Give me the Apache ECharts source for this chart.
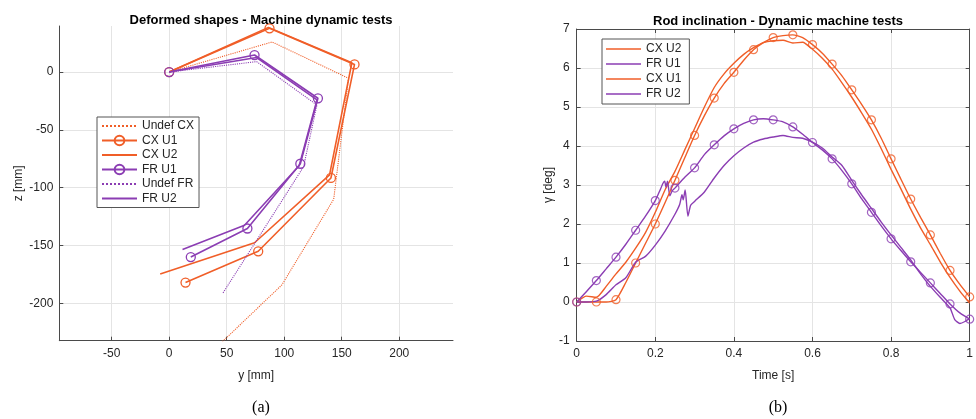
<!DOCTYPE html>
<html><head><meta charset="utf-8">
<script src="https://cdn.jsdelivr.net/npm/echarts@6/dist/echarts.min.js"></script>
<style>html,body{margin:0;padding:0;background:#fff}#c{width:976px;height:419px}</style>
</head><body><div id="c"></div>
<script>
// ---------- (a) Deformed shapes: y [mm], z [mm] ----------
const undefCxY = [0, 89.5, 155.9, 143, 98, 38];
const undefCxZ = [0, 26, -5.4, -110, -184, -241];
const cxU1Y = [0, 87.2, 161.1, 140.6, 77.4, 14.2];
const cxU1Z = [0, 37.8, 6.6, -91.6, -155, -182];
const cxU2Y = [0, 86.3, 158.8, 139.4, 74.2, -7.8];
const cxU2Z = [0, 38.6, 8, -89, -147.6, -174.7];
const frU1Y = [0, 74.2, 129.3, 114, 68, 18.8];
const frU1Z = [0, 14.7, -22.7, -79.3, -135.3, -160];
const undefFrY = [0, 76, 128.4, 116.8, 82.8, 46.4];
const undefFrZ = [0, 9, -28.5, -81.9, -135, -191.6];
const frU2Y = [0, 76, 128.5, 113, 65.5, 11.6];
const frU2Z = [0, 12.5, -24, -81, -132.5, -153.5];
const yTicks = [-50, 0, 50, 100, 150, 200];
const zTicks = [-200, -150, -100, -50, 0];

// ---------- (b) Rod inclination: time [s], gamma [deg] ----------
const tGrid = [0,0.025,0.05,0.075,0.1,0.125,0.15,0.175,0.2,0.225,0.25,0.275,0.3,0.325,0.35,0.375,0.4,0.425,0.45,0.475,0.5,0.525,0.55,0.575,0.6,0.625,0.65,0.675,0.7,0.725,0.75,0.775,0.8,0.825,0.85,0.875,0.9,0.925,0.95,0.975,1];
const gCxU1 = [0,0,0,0,0.06,0.5,1.0,1.5,2.0,2.55,3.12,3.7,4.27,4.78,5.23,5.6,5.89,6.2,6.47,6.65,6.78,6.83,6.85,6.78,6.6,6.38,6.1,5.8,5.44,5.07,4.67,4.2,3.67,3.15,2.64,2.17,1.72,1.25,0.81,0.45,0.13];
const gCxU2 = [0,0.15,0.12,0.4,0.72,1.02,1.38,1.78,2.3,2.88,3.35,3.9,4.45,5.0,5.5,5.85,6.12,6.35,6.52,6.65,6.7,6.71,6.64,6.66,6.48,6.25,5.97,5.62,5.25,4.85,4.43,3.93,3.4,2.9,2.38,1.9,1.47,1.03,0.63,0.28,-0.03];
const tFrU1 = [0,0.025,0.05,0.075,0.1,0.125,0.15,0.175,0.2,0.21,0.22,0.224,0.227,0.231,0.237,0.243,0.25,0.275,0.3,0.325,0.35,0.375,0.4,0.425,0.45,0.475,0.5,0.525,0.55,0.575,0.6,0.625,0.65,0.675,0.7,0.725,0.75,0.775,0.8,0.825,0.85,0.875,0.9,0.925,0.95,0.975,1];
const gFrU1 = [0,0.27,0.55,0.85,1.15,1.48,1.84,2.2,2.6,2.82,3.05,3.1,2.95,3.1,2.72,2.85,2.92,3.2,3.44,3.78,4.03,4.26,4.44,4.58,4.67,4.7,4.67,4.62,4.49,4.3,4.09,3.9,3.67,3.37,3.03,2.65,2.3,1.95,1.62,1.32,1.03,0.76,0.49,0.22,-0.05,-0.28,-0.44];
const tFrU2 = [0,0.025,0.05,0.075,0.1,0.125,0.15,0.175,0.2,0.225,0.25,0.262,0.268,0.271,0.276,0.283,0.29,0.3,0.325,0.35,0.375,0.4,0.425,0.45,0.475,0.5,0.525,0.55,0.575,0.6,0.625,0.65,0.675,0.7,0.725,0.75,0.775,0.8,0.825,0.85,0.875,0.9,0.925,0.95,0.962,0.975,0.988,1];
const gFrU2 = [0,0,0.02,0.19,0.44,0.62,1.02,1.17,1.46,1.82,2.25,2.5,2.75,2.62,2.87,2.2,2.48,2.58,2.82,3.18,3.5,3.75,3.95,4.1,4.18,4.23,4.27,4.22,4.2,4.1,3.95,3.72,3.5,3.12,2.75,2.4,2.05,1.72,1.4,1.08,0.72,0.4,0.12,-0.15,-0.45,-0.55,-0.5,-0.42];
const timeTicks = [0, 0.2, 0.4, 0.6, 0.8, 1];

const orange = '#F05E28', purple = '#8B3DB3';
const axisCol = '#4a4a4a', gridCol = '#e4e4e4', textCol = '#262626';
const font = 'Liberation Sans, Arial, Helvetica, sans-serif';

const zip = (a, b) => a.map((v, i) => [v, b[i]]);
const onMarker = (t) => Math.abs(t * 20 - Math.round(t * 20)) < 1e-6;
const markers = (t, g) => zip(t, g).filter(p => onMarker(p[0]));

function shape(name, ys, zs, color, type, marker) {
  return {
    name, type: 'line', xAxisIndex: 0, yAxisIndex: 0, data: zip(ys, zs),
    symbol: marker ? 'circle' : 'none', symbolSize: 9, showAllSymbol: true,
    itemStyle: marker ? { color: 'transparent', borderColor: color, borderWidth: 1.3 }
                      : { color: 'transparent', borderColor: 'transparent', borderWidth: 0 },
    lineStyle: { color, width: type === 'solid' ? 1.6 : 1.1, type },
    emphasis: { disabled: true }, animation: false, clip: true
  };
}
function curve(name, t, g, color) {
  return {
    name, type: 'line', xAxisIndex: 1, yAxisIndex: 1, data: zip(t, g),
    symbol: 'none', smooth: 0.2,
    itemStyle: { color }, lineStyle: { color, width: 1.4 },
    emphasis: { disabled: true }, animation: false
  };
}
function marks(name, t, g, color) {
  return {
    name, type: 'scatter', xAxisIndex: 1, yAxisIndex: 1, data: markers(t, g),
    symbol: 'circle', symbolSize: 8,
    itemStyle: { color: 'transparent', borderColor: color, borderWidth: 1.2 },
    emphasis: { disabled: true }, animation: false, z: 3
  };
}

const tickLbl = { color: textCol, fontSize: 12, fontFamily: font };
const nameTs = { color: textCol, fontSize: 12, fontFamily: font };

const option = {
  backgroundColor: '#fff',
  animation: false,
  title: [
    { text: 'Deformed shapes - Machine dynamic tests', left: 256, top: 9, textAlign: 'center',
      textStyle: { fontSize: 13, fontWeight: 'bold', color: '#000', fontFamily: font } },
    { text: 'Rod inclination - Dynamic machine tests', left: 773, top: 10, textAlign: 'center',
      textStyle: { fontSize: 13, fontWeight: 'bold', color: '#000', fontFamily: font } },
    { text: '(a)', left: 256, top: 395, textAlign: 'center',
      textStyle: { fontSize: 16, fontWeight: 'normal', color: '#000', fontFamily: 'Liberation Serif, DejaVu Serif, serif' } },
    { text: '(b)', left: 773, top: 395, textAlign: 'center',
      textStyle: { fontSize: 16, fontWeight: 'normal', color: '#000', fontFamily: 'Liberation Serif, DejaVu Serif, serif' } }
  ],
  grid: [
    { left: 59.3, top: 26, width: 393.7, height: 314.7, containLabel: false },
    { left: 576.7, top: 29, width: 393.3, height: 312, containLabel: false }
  ],
  legend: [
    { data: ['Undef CX', 'CX U1', 'CX U2', 'FR U1', 'Undef FR', 'FR U2'],
      orient: 'vertical', left: 97, top: 117, padding: [3, 5, 3, 4], itemGap: 2.5,
      itemWidth: 35, itemHeight: 12, backgroundColor: '#fff', borderColor: '#555', borderWidth: 1,
      borderRadius: 0, selectedMode: false, textStyle: { color: textCol, fontSize: 12, fontFamily: font, lineHeight: 12 } },
    { data: [
        { name: 'CX U2', icon: 'rect', itemStyle: { color: orange, borderWidth: 0 } },
        { name: 'FR U1', icon: 'rect', itemStyle: { color: purple, borderWidth: 0 } },
        { name: 'CX U1', icon: 'rect', itemStyle: { color: orange, borderWidth: 0 } },
        { name: 'FR U2', icon: 'rect', itemStyle: { color: purple, borderWidth: 0 } }
      ],
      orient: 'vertical', left: 602, top: 39, padding: [4, 8, 4, 4], itemGap: 3,
      itemWidth: 35, itemHeight: 1.6, backgroundColor: '#fff', borderColor: '#555', borderWidth: 1,
      borderRadius: 0, selectedMode: false, textStyle: { color: textCol, fontSize: 12, fontFamily: font, lineHeight: 12 } }
  ],
  xAxis: [
    { type: 'value', gridIndex: 0, min: -95.5, max: 246.7, name: 'y [mm]', nameLocation: 'middle', nameGap: 29,
      nameTextStyle: nameTs,
      axisLine: { show: true, onZero: false, lineStyle: { color: axisCol, width: 1 } },
      axisTick: { show: true, inside: true, length: 4, customValues: yTicks, lineStyle: { color: axisCol } },
      axisLabel: { customValues: yTicks, margin: 7, ...tickLbl },
      splitLine: { show: true, lineStyle: { color: gridCol, width: 1 } } },
    { type: 'value', gridIndex: 1, min: 0, max: 1, interval: 0.2, name: 'Time [s]', nameLocation: 'middle', nameGap: 29,
      nameTextStyle: nameTs,
      axisLine: { show: true, onZero: false, lineStyle: { color: axisCol, width: 1 } },
      axisTick: { show: true, inside: true, length: 4, lineStyle: { color: axisCol } },
      axisLabel: { margin: 7, formatter: v => String(+v.toFixed(1)), ...tickLbl },
      splitLine: { show: true, lineStyle: { color: gridCol, width: 1 } } },
    { type: 'value', gridIndex: 1, min: 0, max: 1, interval: 0.2, position: 'top',
      axisLine: { show: true, onZero: false, lineStyle: { color: axisCol, width: 1 } },
      axisTick: { show: true, inside: true, length: 4, lineStyle: { color: axisCol } },
      axisLabel: { show: false }, splitLine: { show: false } }
  ],
  yAxis: [
    { type: 'value', gridIndex: 0, min: -232.3, max: 39.8, name: 'z [mm]', nameLocation: 'middle', nameGap: 35,
      nameTextStyle: nameTs,
      axisLine: { show: true, onZero: false, lineStyle: { color: axisCol, width: 1 } },
      axisTick: { show: true, inside: true, length: 4, customValues: zTicks, lineStyle: { color: axisCol } },
      axisLabel: { customValues: zTicks, margin: 6, ...tickLbl },
      splitLine: { show: true, lineStyle: { color: gridCol, width: 1 } } },
    { type: 'value', gridIndex: 1, min: -1, max: 7, interval: 1, name: 'γ [deg]', nameLocation: 'middle', nameGap: 19,
      nameTextStyle: nameTs,
      axisLine: { show: true, onZero: false, lineStyle: { color: axisCol, width: 1 } },
      axisTick: { show: true, inside: true, length: 4, lineStyle: { color: axisCol } },
      axisLabel: { margin: 7, ...tickLbl },
      splitLine: { show: true, lineStyle: { color: gridCol, width: 1 } } },
    { type: 'value', gridIndex: 1, min: -1, max: 7, interval: 1, position: 'right',
      axisLine: { show: true, onZero: false, lineStyle: { color: axisCol, width: 1 } },
      axisTick: { show: true, inside: true, length: 4, lineStyle: { color: axisCol } },
      axisLabel: { show: false }, splitLine: { show: false } }
  ],
  series: [
    shape('Undef CX', undefCxY, undefCxZ, orange, 'dotted', false),
    shape('CX U1', cxU1Y, cxU1Z, orange, 'solid', true),
    shape('CX U2', cxU2Y, cxU2Z, orange, 'solid', false),
    shape('FR U1', frU1Y, frU1Z, purple, 'solid', true),
    shape('Undef FR', undefFrY, undefFrZ, purple, 'dotted', false),
    shape('FR U2', frU2Y, frU2Z, purple, 'solid', false),
    curve('CX U2', tGrid, gCxU2, orange),
    curve('FR U1', tFrU1, gFrU1, purple),
    curve('CX U1', tGrid, gCxU1, orange),
    curve('FR U2', tFrU2, gFrU2, purple),
    marks('CX U1 markers', tGrid, gCxU1, orange),
    marks('FR U1 markers', tFrU1, gFrU1, purple)
  ]
};
const chart = echarts.init(document.getElementById('c'), null, { renderer: 'canvas' });
chart.setOption(option);
</script></body></html>
